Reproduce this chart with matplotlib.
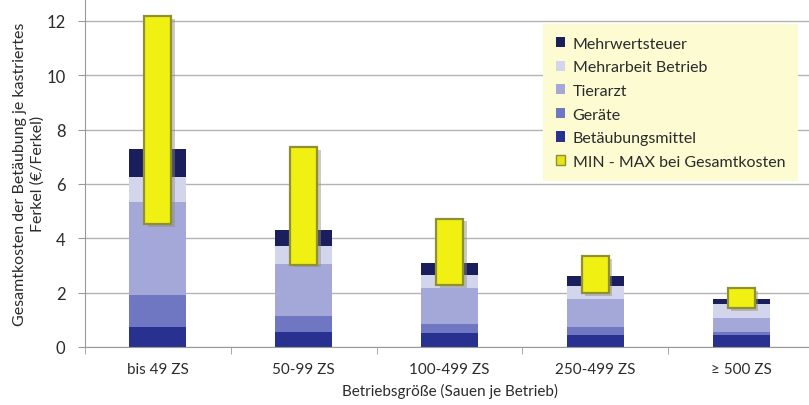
import numpy as np
import matplotlib
matplotlib.use("Agg")
from matplotlib import pyplot as plt
from matplotlib.patches import Patch

plt.rcParams['font.family'] = ['Lato', 'DejaVu Sans']

# data
categories = ["bis 49 ZS", "50-99 ZS", "100-499 ZS", "250-499 ZS", "\u2265 500 ZS"]
betaeubungsmittel = [0.74, 0.56, 0.52, 0.45, 0.44]
geraete = [1.17, 0.57, 0.32, 0.30, 0.12]
tierarzt = [3.41, 1.92, 1.34, 1.03, 0.50]
mehrarbeit = [0.92, 0.67, 0.48, 0.47, 0.52]
mehrwertsteuer = [1.04, 0.59, 0.43, 0.35, 0.18]
gesamt_min = [4.52, 3.03, 2.27, 1.99, 1.42]
gesamt_max = [12.18, 7.36, 4.72, 3.33, 2.16]

series = [
    ("Betäubungsmittel", betaeubungsmittel, "#28318f"),
    ("Geräte", geraete, "#7077c2"),
    ("Tierarzt", tierarzt, "#a4a8d8"),
    ("Mehrarbeit Betrieb", mehrarbeit, "#d3d5ec"),
    ("Mehrwertsteuer", mehrwertsteuer, "#1b1e5c"),
]
txt = "#2b2b2b"

fig = plt.figure(figsize=(8.09, 4.06), dpi=100)
ax = fig.add_axes([85 / 809, 1 - 348 / 406, 729 / 809, 348 / 406])

x = np.arange(len(categories))
bottom = np.zeros(len(categories))
for name, vals, col in series:
    ax.bar(x, vals, width=0.39, bottom=bottom, color=col, zorder=2)
    bottom += np.array(vals)

# min-max range bars with a little shadow
lo = np.array(gesamt_min)
hi = np.array(gesamt_max)
ax.bar(x + 0.025, hi - lo, width=0.185, bottom=lo - 0.1, color="#8c8c78",
       alpha=0.45, zorder=3)
ax.bar(x, hi - lo, width=0.185, bottom=lo, color="#f0f012",
       edgecolor="#8f8f35", linewidth=1.6, zorder=4)

ax.set_xlim(-0.5, 4.5)
ax.set_ylim(0, 12.8)
ax.set_yticks(range(0, 13, 2))
ax.yaxis.grid(True, color="#b3b3b3", linewidth=1.0, zorder=0)
ax.set_axisbelow(True)
ax.set_xticks(x)
ax.set_xticklabels(categories, fontsize=11, color=txt)
ax.set_xticks(np.arange(-0.5, 4.6, 1), minor=True)
ax.tick_params(axis="x", which="major", length=0, pad=11)
ax.tick_params(axis="x", which="minor", length=5, color="#999999")
ax.tick_params(axis="y", length=5, color="#999999", labelsize=12,
               labelcolor=txt, pad=9)
for s in ["top", "right"]:
    ax.spines[s].set_visible(False)
ax.spines["left"].set_color("#999999")
ax.spines["bottom"].set_color("#999999")

ax.set_xlabel("Betriebsgröße (Sauen je Betrieb)", fontsize=11,
              color=txt, labelpad=5)
ax.set_ylabel("Gesamtkosten der Betäubung je kastriertes\nFerkel (€/Ferkel)",
              fontsize=11.5, color=txt, labelpad=1, linespacing=1.35)

handles = [Patch(facecolor=col, edgecolor="none", label=name)
           for name, vals, col in series[::-1]]
handles.append(Patch(facecolor="#e6e615", edgecolor="#8f8f35", label="MIN - MAX bei Gesamtkosten"))
leg = ax.legend(handles=handles, loc="upper left", bbox_to_anchor=((543 - 85) / 729, 1 - 25 / 348),
                fontsize=11.5, frameon=True, fancybox=False, facecolor="#fcfbd2",
                edgecolor="none", framealpha=1.0, handlelength=0.6, handleheight=0.6,
                handletextpad=0.45, labelspacing=0.6, borderpad=0.8, borderaxespad=0)
for t in leg.get_texts():
    t.set_color(txt)
leg.set_zorder(5)

fig.savefig("out.png", dpi=100)
